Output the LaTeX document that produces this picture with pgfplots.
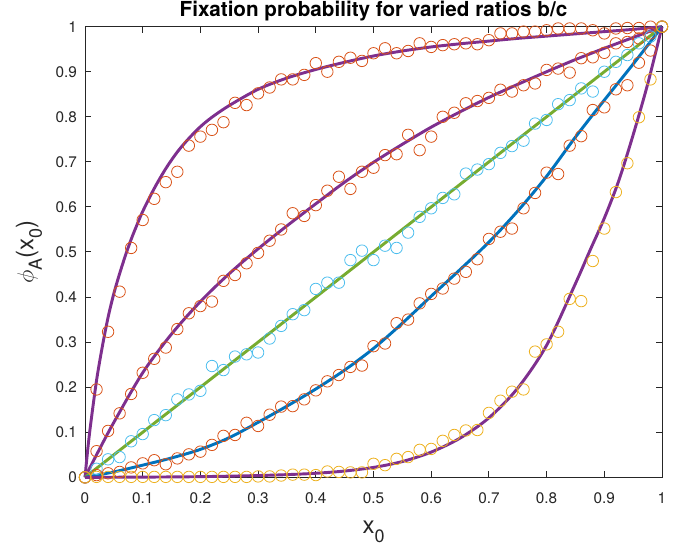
\documentclass[border=0pt]{standalone}
\usepackage{fontspec}
\setmainfont{TeX Gyre Heros}
\usepackage{pgfplots}
\usepackage{pgfplotstable}
\pgfplotsset{compat=1.18}

\definecolor{mOrange}{rgb}{0.850,0.325,0.098}
\definecolor{mYellow}{rgb}{0.929,0.694,0.125}
\definecolor{mPurple}{rgb}{0.494,0.184,0.556}
\definecolor{mGreen}{rgb}{0.466,0.674,0.188}
\definecolor{mCyan}{rgb}{0.301,0.745,0.933}
\definecolor{mBlue}{rgb}{0,0.447,0.741}
\definecolor{axgray}{rgb}{0.15,0.15,0.15}

% simulated points (markers)
\pgfplotstableread{
x y
0 0
0.02 0.195
0.04 0.323
0.06 0.412
0.08 0.509
0.10 0.571
0.12 0.618
0.14 0.655
0.16 0.678
0.18 0.736
0.20 0.756
0.22 0.771
0.24 0.788
0.26 0.831
0.28 0.826
0.30 0.852
0.32 0.865
0.34 0.883
0.36 0.883
0.38 0.893
0.40 0.919
0.42 0.900
0.44 0.922
0.46 0.931
0.48 0.924
0.50 0.941
0.52 0.952
0.54 0.941
0.56 0.946
0.58 0.963
0.60 0.955
0.62 0.959
0.64 0.961
0.66 0.963
0.68 0.961
0.70 0.970
0.72 0.985
0.74 0.985
0.76 0.989
0.78 0.989
0.80 0.992
0.82 0.996
0.84 0.996
0.86 0.996
0.88 0.992
0.90 0.985
0.92 0.996
0.94 0.997
0.96 0.997
0.98 1.000
1.00 1.000
}\simA

\pgfplotstableread{
x y
0 0
0.02 0.058
0.04 0.103
0.06 0.142
0.08 0.185
0.10 0.232
0.12 0.263
0.14 0.288
0.16 0.329
0.18 0.364
0.20 0.380
0.22 0.390
0.24 0.436
0.26 0.449
0.28 0.475
0.30 0.498
0.32 0.525
0.34 0.550
0.36 0.586
0.38 0.580
0.40 0.604
0.42 0.636
0.44 0.667
0.46 0.640
0.48 0.678
0.50 0.687
0.52 0.715
0.54 0.717
0.56 0.760
0.58 0.726
0.60 0.756
0.62 0.800
0.64 0.809
0.66 0.830
0.68 0.835
0.70 0.842
0.72 0.860
0.74 0.856
0.76 0.870
0.78 0.874
0.80 0.904
0.82 0.907
0.84 0.898
0.86 0.930
0.88 0.932
0.90 0.942
0.92 0.963
0.94 0.966
0.96 0.974
0.98 0.985
1.00 1.000
}\simB

\pgfplotstableread{
x y
0 0
0.02 0.019
0.04 0.040
0.06 0.045
0.08 0.080
0.10 0.096
0.12 0.127
0.14 0.138
0.16 0.173
0.18 0.184
0.20 0.192
0.22 0.247
0.24 0.238
0.26 0.268
0.28 0.273
0.30 0.277
0.32 0.308
0.34 0.336
0.36 0.362
0.38 0.371
0.40 0.418
0.42 0.432
0.44 0.432
0.46 0.482
0.48 0.503
0.50 0.482
0.52 0.514
0.54 0.509
0.56 0.543
0.58 0.578
0.60 0.597
0.62 0.620
0.64 0.628
0.66 0.674
0.68 0.683
0.70 0.695
0.72 0.720
0.74 0.735
0.76 0.747
0.78 0.785
0.80 0.793
0.82 0.828
0.84 0.837
0.86 0.863
0.88 0.856
0.90 0.900
0.92 0.922
0.94 0.937
0.96 0.963
0.98 0.978
1.00 1.000
}\simC

\pgfplotstableread{
x y
0 0
0.02 0.005
0.04 0.009
0.06 0.012
0.08 0.022
0.10 0.031
0.12 0.038
0.14 0.029
0.16 0.042
0.18 0.051
0.20 0.057
0.22 0.072
0.24 0.092
0.26 0.094
0.28 0.121
0.30 0.114
0.32 0.139
0.34 0.157
0.36 0.158
0.38 0.173
0.40 0.193
0.42 0.213
0.44 0.227
0.46 0.245
0.48 0.248
0.50 0.291
0.52 0.297
0.54 0.342
0.56 0.350
0.58 0.386
0.60 0.407
0.62 0.419
0.64 0.441
0.66 0.456
0.68 0.484
0.70 0.529
0.72 0.545
0.74 0.552
0.76 0.597
0.78 0.631
0.80 0.676
0.82 0.673
0.84 0.736
0.86 0.757
0.88 0.815
0.90 0.821
0.92 0.861
0.94 0.870
0.96 0.920
0.98 0.947
1.00 1.000
}\simD

\pgfplotstableread{
x y
0 0
0.02 0.001
0.04 0.001
0.06 0.001
0.08 0.001
0.10 0.001
0.12 0.001
0.14 0.001
0.16 0.001
0.18 0.001
0.20 0.001
0.22 0.001
0.24 0.001
0.26 0.001
0.28 0.001
0.30 0.002
0.32 0.002
0.34 0.004
0.36 0.006
0.38 0.006
0.40 0.005
0.42 0.013
0.44 0.012
0.46 0.011
0.48 0.011
0.50 0.030
0.52 0.027
0.54 0.041
0.56 0.045
0.58 0.061
0.60 0.063
0.62 0.081
0.64 0.094
0.66 0.104
0.68 0.105
0.70 0.143
0.72 0.170
0.74 0.190
0.76 0.195
0.78 0.279
0.80 0.295
0.82 0.323
0.84 0.396
0.86 0.391
0.88 0.480
0.90 0.552
0.92 0.633
0.94 0.697
0.96 0.799
0.98 0.883
1.00 1.000
}\simE

% theory curves
\pgfplotstableread{
x y
0 0
0.005 0.065
0.01 0.12
0.02 0.215
0.03 0.29
0.04 0.355
0.05 0.408
0.06 0.452
0.07 0.492
0.08 0.528
0.09 0.56
0.10 0.59
0.12 0.641
0.14 0.685
0.16 0.722
0.18 0.752
0.20 0.778
0.22 0.799
0.25 0.825
0.30 0.861
0.35 0.886
0.40 0.905
0.45 0.921
0.50 0.935
0.55 0.946
0.60 0.955
0.65 0.962
0.70 0.968
0.75 0.974
0.80 0.979
0.85 0.984
0.90 0.989
0.95 0.994
1.00 1.0
}\thA

\pgfplotstableread{
x y
0 0
0.02 0.05
0.05 0.122
0.10 0.232
0.15 0.318
0.20 0.39
0.25 0.452
0.30 0.507
0.35 0.558
0.40 0.607
0.45 0.655
0.50 0.699
0.55 0.739
0.60 0.777
0.65 0.811
0.70 0.843
0.75 0.872
0.80 0.9
0.85 0.927
0.90 0.952
0.95 0.976
1.00 1.0
}\thB

\pgfplotstableread{
x y
0 0
1 1
}\thC

\pgfplotstableread{
x y
0 0
0.05 0.012
0.10 0.027
0.15 0.043
0.20 0.062
0.25 0.088
0.30 0.122
0.35 0.158
0.40 0.196
0.45 0.238
0.50 0.286
0.55 0.342
0.60 0.402
0.65 0.461
0.70 0.522
0.75 0.591
0.80 0.668
0.85 0.755
0.90 0.837
0.95 0.917
1.00 1.0
}\thD

\pgfplotstableread{
x y
0 0
0.1 0.0005
0.2 0.0015
0.3 0.004
0.35 0.006
0.4 0.009
0.45 0.014
0.5 0.022
0.55 0.035
0.6 0.056
0.65 0.087
0.7 0.132
0.75 0.198
0.8 0.293
0.85 0.43
0.875 0.503
0.9 0.575
0.925 0.658
0.95 0.76
0.975 0.872
1.0 1.0
}\thE

\newcommand{\sub}[1]{\raisebox{-6.5pt}{\fontsize{13.5pt}{14pt}\selectfont #1}}

\begin{document}
\begin{tikzpicture}
\useasboundingbox (-63.75pt,-53.8pt) rectangle (449.25pt,358pt);
\begin{axis}[
  at={(0,0)}, anchor=south west,
  scale only axis, width=432.75pt, height=338pt,
  xmin=0, xmax=1, ymin=0, ymax=1,
  clip=false,
  xtick={0,0.1,0.2,0.3,0.4,0.5,0.6,0.7,0.8,0.9,1},
  ytick={0,0.1,0.2,0.3,0.4,0.5,0.6,0.7,0.8,0.9,1},
  xticklabels={0,0.1,0.2,0.3,0.4,0.5,0.6,0.7,0.8,0.9,1},
  yticklabels={0,0.1,0.2,0.3,0.4,0.5,0.6,0.7,0.8,0.9,1},
  tick pos=both, tick align=inside, major tick length=4.5pt,
  axis line style={axgray, line width=0.75pt},
  major tick style={axgray, line width=0.75pt},
  ticklabel style={text=axgray, font=\fontsize{11.5pt}{13pt}\selectfont},
  xticklabel style={anchor=base, yshift=-19.5pt},
  yticklabel style={anchor=east, inner sep=0pt, xshift=-5.8pt},
  title={Fixation probability for varied ratios b/c},
  title style={at={(0.5,1)}, anchor=base, yshift=1.5pt,
    font=\fontsize{15.5pt}{18pt}\selectfont\bfseries},
  xlabel={x\sub{0}},
  xlabel style={at={(axis description cs:0.5,0)}, anchor=base, yshift=-42pt,
    text=axgray, font=\fontsize{18pt}{20pt}\selectfont},
  ylabel={$\phi$\sub{A}(x\sub{0})},
  ylabel style={at={(axis description cs:-0.097,0.5)}, anchor=center,
    text=axgray, font=\fontsize{18pt}{20pt}\selectfont},
  every axis plot/.append style={line join=round},
]
\addplot[only marks, mark=o, mark size=4.3pt, mOrange, mark options={line width=0.6pt}] table {\simA};
\addplot[only marks, mark=o, mark size=4.3pt, mOrange, mark options={line width=0.6pt}] table {\simB};
\addplot[only marks, mark=o, mark size=4.3pt, mCyan, mark options={line width=0.6pt}] table {\simC};
\addplot[only marks, mark=o, mark size=4.3pt, mOrange, mark options={line width=0.6pt}] table {\simD};
\addplot[only marks, mark=o, mark size=4.3pt, mYellow, mark options={line width=0.6pt}] table {\simE};

\addplot[no marks, smooth, tension=0.5, mPurple, line width=2.2pt] table {\thA};
\addplot[no marks, smooth, tension=0.5, mPurple, line width=2.2pt] table {\thB};
\addplot[no marks, mGreen, line width=2.2pt] table {\thC};
\addplot[no marks, smooth, tension=0.5, mBlue, line width=2.2pt] table {\thD};
\addplot[no marks, smooth, tension=0.5, mPurple, line width=2.2pt] table {\thE};
\end{axis}
\end{tikzpicture}
\end{document}
